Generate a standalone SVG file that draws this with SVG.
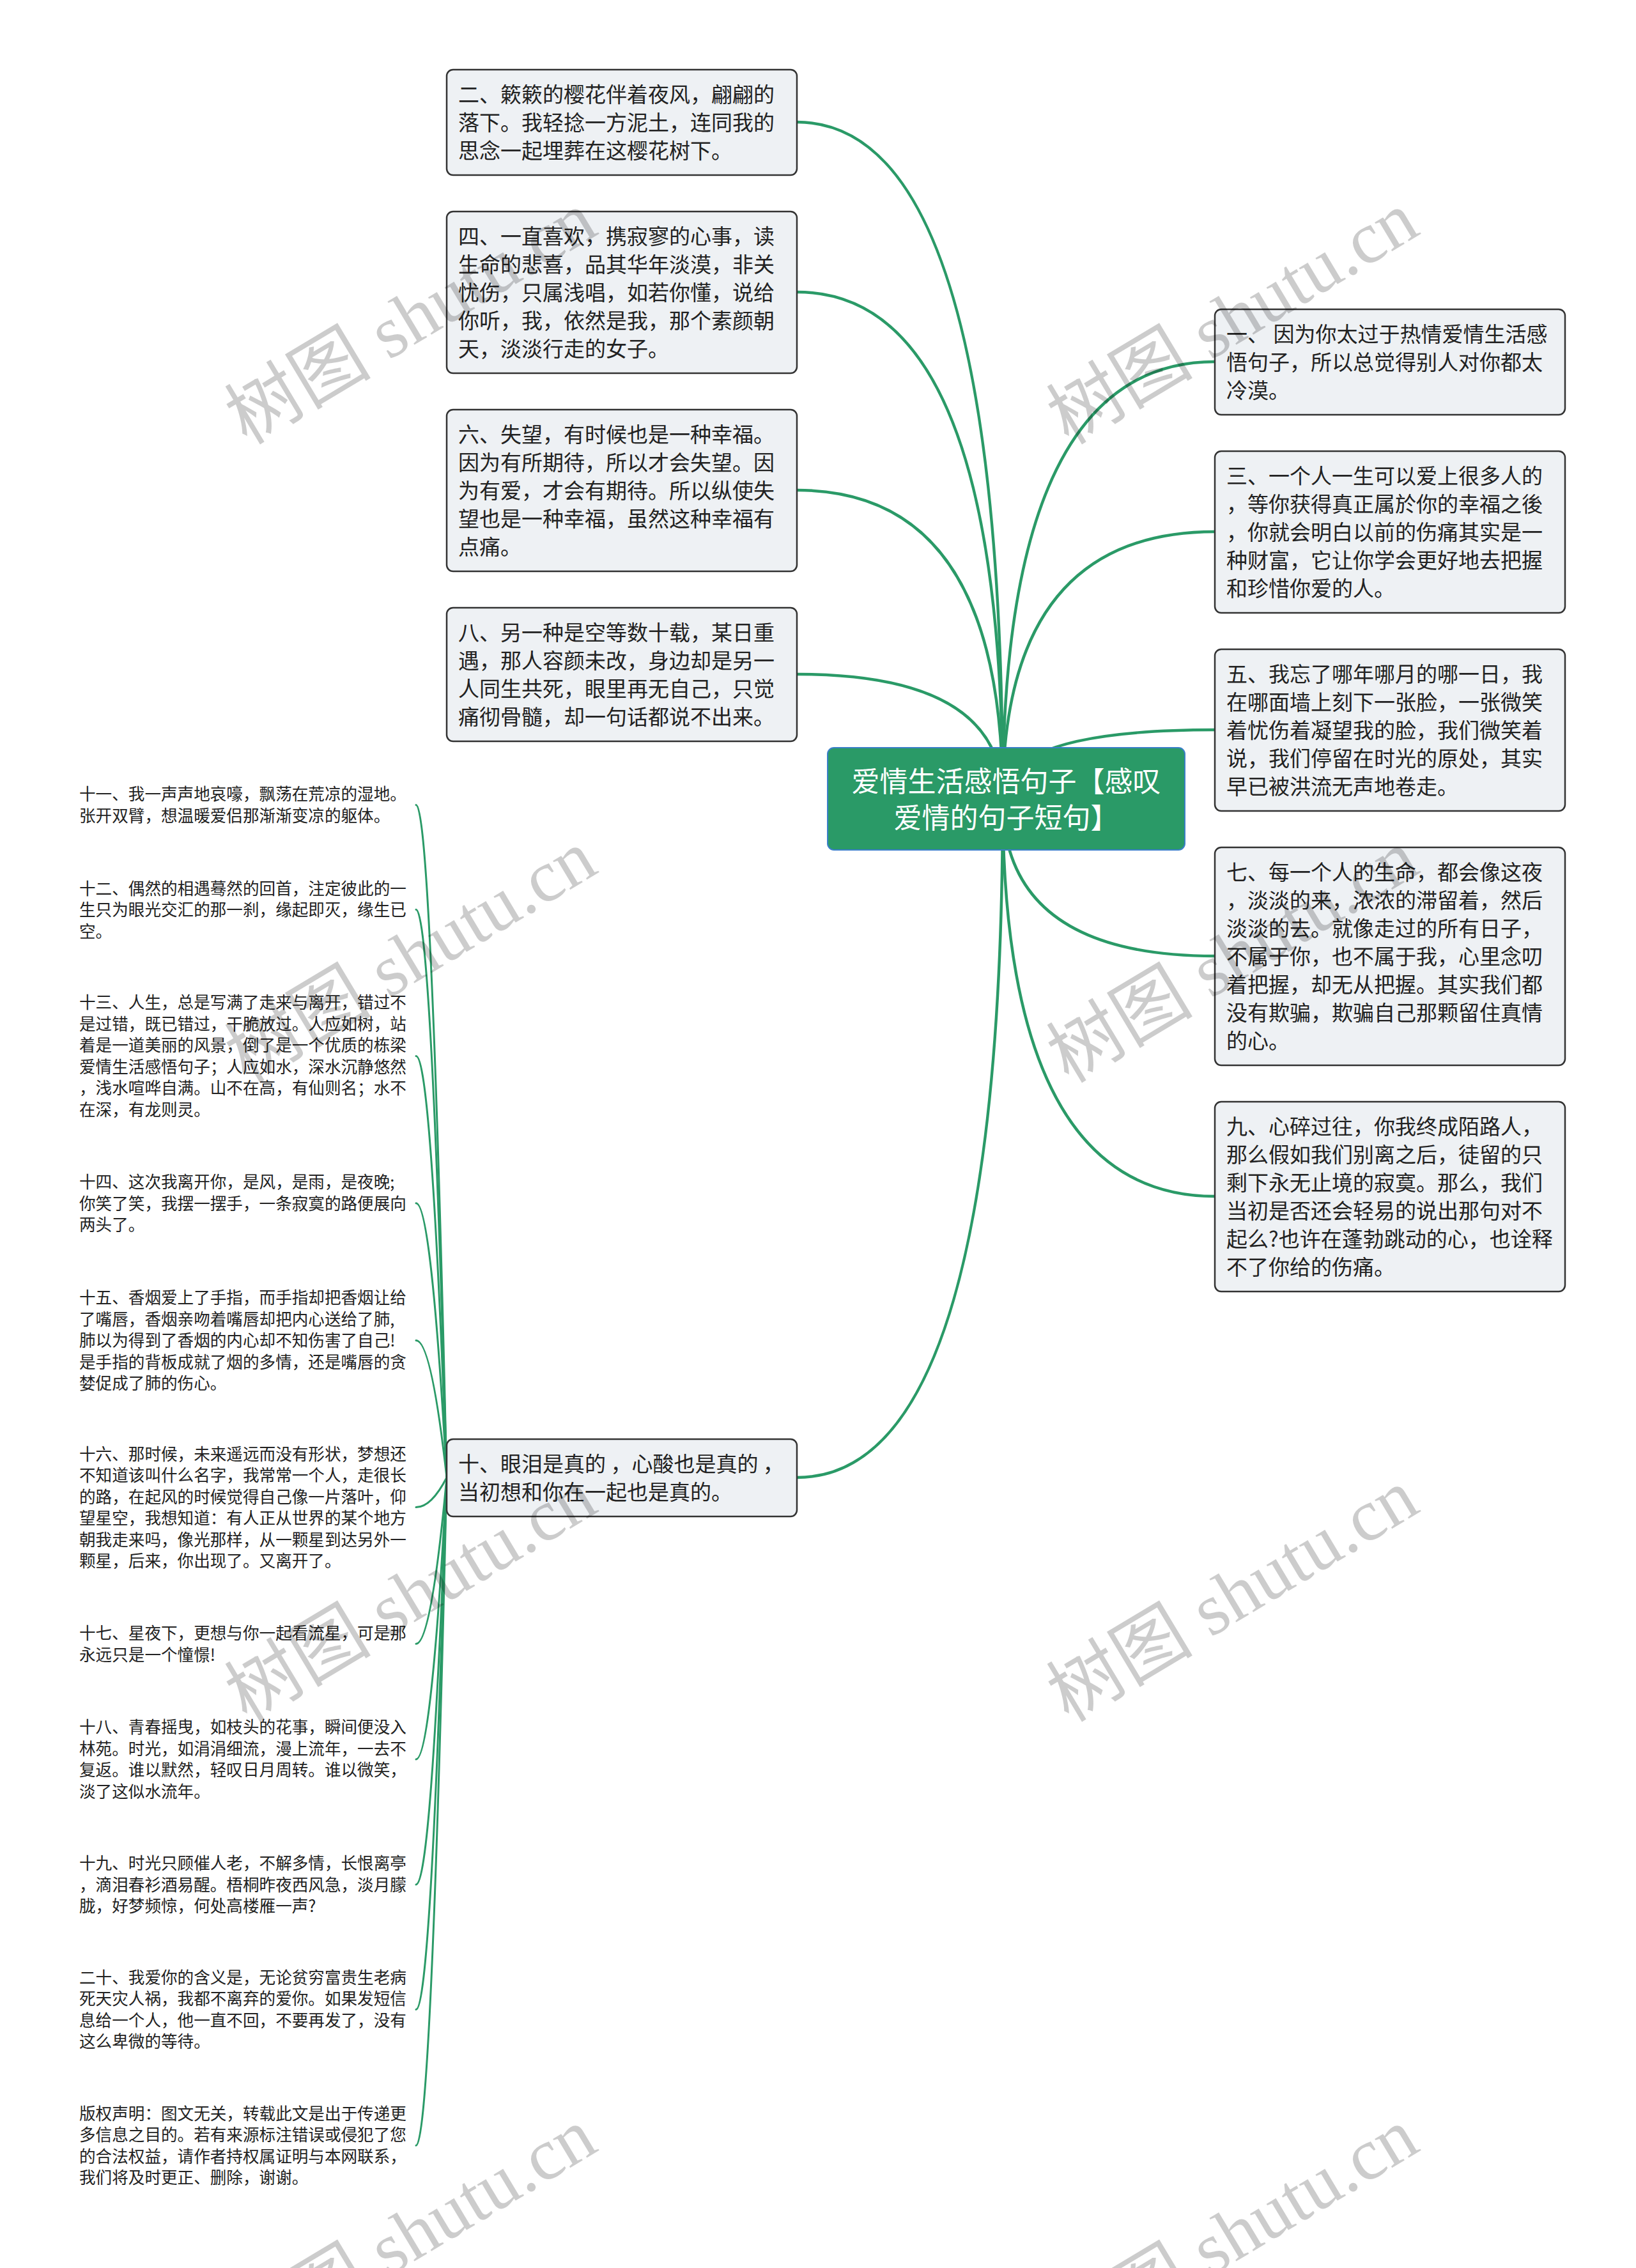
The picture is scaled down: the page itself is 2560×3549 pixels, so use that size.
<svg xmlns="http://www.w3.org/2000/svg" width="2560" height="3549" viewBox="0 0 2560 3549">
<style>
.bg{fill:#ffffff}
.node rect{fill:#eef1f4;stroke:#333333;stroke-width:2.5}
.t{font-family:"Noto Sans CJK SC","Liberation Sans",sans-serif;font-size:33px;fill:#222222}
.s{font-family:"Noto Sans CJK SC","Liberation Sans",sans-serif;font-size:25.6px;fill:#222222}
.root rect{fill:#2a9a67;stroke:#3a7fc8;stroke-width:2}
.root text{font-family:"Noto Sans CJK SC","Liberation Sans",sans-serif;font-size:44px;fill:#ffffff;text-anchor:middle}
.edge{fill:none;stroke:#2a9a67;stroke-width:4.5;stroke-linecap:round}
.sub{fill:none;stroke:#2a9a67;stroke-width:3;stroke-linecap:round}
.wm{font-family:"Liberation Serif","Noto Sans CJK SC",serif;font-size:115px;fill:#000000;fill-opacity:0.2;text-anchor:middle;dominant-baseline:central}
</style>
<rect class="bg" x="0" y="0" width="2560" height="3549"/>
<g id="connectors">
<path class="edge" d="M1569 1250 Q1569 191 1247 191"/>
<path class="edge" d="M1569 1250 Q1569 457 1247 457"/>
<path class="edge" d="M1569 1250 Q1569 767 1247 767"/>
<path class="edge" d="M1569 1250 Q1569 1055 1247 1055"/>
<path class="edge" d="M1569 1250 Q1569 2312 1247 2312"/>
<path class="edge" d="M1569 1250 Q1569 566 1901 566"/>
<path class="edge" d="M1569 1250 Q1569 832 1901 832"/>
<path class="edge" d="M1569 1250 Q1569 1142 1901 1142"/>
<path class="edge" d="M1569 1250 Q1569 1496 1901 1496"/>
<path class="edge" d="M1569 1250 Q1569 1872 1901 1872"/>
<path class="sub" d="M699 2312 Q675 1259.5 651 1259.5"/>
<path class="sub" d="M699 2312 Q675 1423.3 651 1423.3"/>
<path class="sub" d="M699 2312 Q675 1652.4 651 1652.4"/>
<path class="sub" d="M699 2312 Q675 1882.8 651 1882.8"/>
<path class="sub" d="M699 2312 Q675 2097.4 651 2097.4"/>
<path class="sub" d="M699 2312 Q675 2358.6 651 2358.6"/>
<path class="sub" d="M699 2312 Q675 2572.3 651 2572.3"/>
<path class="sub" d="M699 2312 Q675 2752.9 651 2752.9"/>
<path class="sub" d="M699 2312 Q675 2948.9 651 2948.9"/>
<path class="sub" d="M699 2312 Q675 3144.5 651 3144.5"/>
<path class="sub" d="M699 2312 Q675 3357.3 651 3357.3"/>
</g>
<g id="root" class="root">
<rect x="1295" y="1170" width="559" height="160" rx="10"/>
<text x="1574.5" y="1239"><tspan x="1574.5" y="1239">爱情生活感悟句子【感叹</tspan><tspan x="1574.5" y="1296">爱情的句子短句】</tspan></text>
</g>
<g id="n2" class="node">
<rect x="699" y="109" width="548" height="165" rx="10"/>
<text class="t"><tspan x="717" y="160">二、簌簌的樱花伴着夜风，翩翩的</tspan><tspan x="717" y="204">落下。我轻捻一方泥土，连同我的</tspan><tspan x="717" y="248">思念一起埋葬在这樱花树下。</tspan></text>
</g>
<g id="n4" class="node">
<rect x="699" y="331" width="548" height="253" rx="10"/>
<text class="t"><tspan x="717" y="382">四、一直喜欢，携寂寥的心事，读</tspan><tspan x="717" y="426">生命的悲喜，品其华年淡漠，非关</tspan><tspan x="717" y="470">忧伤，只属浅唱，如若你懂，说给</tspan><tspan x="717" y="514">你听，我，依然是我，那个素颜朝</tspan><tspan x="717" y="558">天，淡淡行走的女子。</tspan></text>
</g>
<g id="n6" class="node">
<rect x="699" y="641" width="548" height="253" rx="10"/>
<text class="t"><tspan x="717" y="692">六、失望，有时候也是一种幸福。</tspan><tspan x="717" y="736">因为有所期待，所以才会失望。因</tspan><tspan x="717" y="780">为有爱，才会有期待。所以纵使失</tspan><tspan x="717" y="824">望也是一种幸福，虽然这种幸福有</tspan><tspan x="717" y="868">点痛。</tspan></text>
</g>
<g id="n8" class="node">
<rect x="699" y="951" width="548" height="209" rx="10"/>
<text class="t"><tspan x="717" y="1002">八、另一种是空等数十载，某日重</tspan><tspan x="717" y="1046">遇，那人容颜未改，身边却是另一</tspan><tspan x="717" y="1090">人同生共死，眼里再无自己，只觉</tspan><tspan x="717" y="1134">痛彻骨髓，却一句话都说不出来。</tspan></text>
</g>
<g id="n10" class="node">
<rect x="699" y="2252" width="548" height="121" rx="10"/>
<text class="t"><tspan x="717" y="2303">十、眼泪是真的 ，心酸也是真的 ，</tspan><tspan x="717" y="2347">当初想和你在一起也是真的。</tspan></text>
</g>
<g id="n1" class="node">
<rect x="1901" y="484" width="548" height="165" rx="10"/>
<text class="t"><tspan x="1919" y="535">一、 因为你太过于热情爱情生活感</tspan><tspan x="1919" y="579">悟句子，所以总觉得别人对你都太</tspan><tspan x="1919" y="623">冷漠。</tspan></text>
</g>
<g id="n3" class="node">
<rect x="1901" y="706" width="548" height="253" rx="10"/>
<text class="t"><tspan x="1919" y="757">三、一个人一生可以爱上很多人的</tspan><tspan x="1919" y="801">，等你获得真正属於你的幸福之後</tspan><tspan x="1919" y="845">，你就会明白以前的伤痛其实是一</tspan><tspan x="1919" y="889">种财富，它让你学会更好地去把握</tspan><tspan x="1919" y="933">和珍惜你爱的人。</tspan></text>
</g>
<g id="n5" class="node">
<rect x="1901" y="1016" width="548" height="253" rx="10"/>
<text class="t"><tspan x="1919" y="1067">五、我忘了哪年哪月的哪一日，我</tspan><tspan x="1919" y="1111">在哪面墙上刻下一张脸，一张微笑</tspan><tspan x="1919" y="1155">着忧伤着凝望我的脸，我们微笑着</tspan><tspan x="1919" y="1199">说，我们停留在时光的原处，其实</tspan><tspan x="1919" y="1243">早已被洪流无声地卷走。</tspan></text>
</g>
<g id="n7" class="node">
<rect x="1901" y="1326" width="548" height="341" rx="10"/>
<text class="t"><tspan x="1919" y="1377">七、每一个人的生命，都会像这夜</tspan><tspan x="1919" y="1421">，淡淡的来，浓浓的滞留着，然后</tspan><tspan x="1919" y="1465">淡淡的去。就像走过的所有日子，</tspan><tspan x="1919" y="1509">不属于你，也不属于我，心里念叨</tspan><tspan x="1919" y="1553">着把握，却无从把握。其实我们都</tspan><tspan x="1919" y="1597">没有欺骗，欺骗自己那颗留住真情</tspan><tspan x="1919" y="1641">的心。</tspan></text>
</g>
<g id="n9" class="node">
<rect x="1901" y="1724" width="548" height="297" rx="10"/>
<text class="t"><tspan x="1919" y="1775">九、心碎过往，你我终成陌路人，</tspan><tspan x="1919" y="1819">那么假如我们别离之后，徒留的只</tspan><tspan x="1919" y="1863">剩下永无止境的寂寞。那么，我们</tspan><tspan x="1919" y="1907">当初是否还会轻易的说出那句对不</tspan><tspan x="1919" y="1951">起么?也许在蓬勃跳动的心，也诠释</tspan><tspan x="1919" y="1995">不了你给的伤痛。</tspan></text>
</g>
<g id="n11">
<text class="s"><tspan x="124" y="1252.4">十一、我一声声地哀嚎，飘荡在荒凉的湿地。</tspan><tspan x="124" dy="33.5">张开双臂，想温暖爱侣那渐渐变凉的躯体。</tspan></text>
</g>
<g id="n12">
<text class="s"><tspan x="124" y="1399.5">十二、偶然的相遇蓦然的回首，注定彼此的一</tspan><tspan x="124" dy="33.5">生只为眼光交汇的那一刹，缘起即灭，缘生已</tspan><tspan x="124" dy="33.5">空。</tspan></text>
</g>
<g id="n13">
<text class="s"><tspan x="124" y="1578.3">十三、人生，总是写满了走来与离开，错过不</tspan><tspan x="124" dy="33.5">是过错，既已错过，干脆放过。人应如树，站</tspan><tspan x="124" dy="33.5">着是一道美丽的风景，倒了是一个优质的栋梁</tspan><tspan x="124" dy="33.5">爱情生活感悟句子；人应如水，深水沉静悠然</tspan><tspan x="124" dy="33.5">，浅水喧哗自满。山不在高，有仙则名；水不</tspan><tspan x="124" dy="33.5">在深，有龙则灵。</tspan></text>
</g>
<g id="n14">
<text class="s"><tspan x="124" y="1859">十四、这次我离开你，是风，是雨，是夜晚;</tspan><tspan x="124" dy="33.5">你笑了笑，我摆一摆手，一条寂寞的路便展向</tspan><tspan x="124" dy="33.5">两头了。</tspan></text>
</g>
<g id="n15">
<text class="s"><tspan x="124" y="2040.1">十五、香烟爱上了手指，而手指却把香烟让给</tspan><tspan x="124" dy="33.5">了嘴唇，香烟亲吻着嘴唇却把内心送给了肺,</tspan><tspan x="124" dy="33.5">肺以为得到了香烟的内心却不知伤害了自己!</tspan><tspan x="124" dy="33.5">是手指的背板成就了烟的多情，还是嘴唇的贪</tspan><tspan x="124" dy="33.5">婪促成了肺的伤心。</tspan></text>
</g>
<g id="n16">
<text class="s"><tspan x="124" y="2284.5">十六、那时候，未来遥远而没有形状，梦想还</tspan><tspan x="124" dy="33.5">不知道该叫什么名字，我常常一个人，走很长</tspan><tspan x="124" dy="33.5">的路，在起风的时候觉得自己像一片落叶，仰</tspan><tspan x="124" dy="33.5">望星空，我想知道：有人正从世界的某个地方</tspan><tspan x="124" dy="33.5">朝我走来吗，像光那样，从一颗星到达另外一</tspan><tspan x="124" dy="33.5">颗星，后来，你出现了。又离开了。</tspan></text>
</g>
<g id="n17">
<text class="s"><tspan x="124" y="2565.2">十七、星夜下，更想与你一起看流星，可是那</tspan><tspan x="124" dy="33.5">永远只是一个憧憬!</tspan></text>
</g>
<g id="n18">
<text class="s"><tspan x="124" y="2712.3">十八、青春摇曳，如枝头的花事，瞬间便没入</tspan><tspan x="124" dy="33.5">林苑。时光，如涓涓细流，漫上流年，一去不</tspan><tspan x="124" dy="33.5">复返。谁以默然，轻叹日月周转。谁以微笑，</tspan><tspan x="124" dy="33.5">淡了这似水流年。</tspan></text>
</g>
<g id="n19">
<text class="s"><tspan x="124" y="2925.1">十九、时光只顾催人老，不解多情，长恨离亭</tspan><tspan x="124" dy="33.5">，滴泪春衫酒易醒。梧桐昨夜西风急，淡月朦</tspan><tspan x="124" dy="33.5">胧，好梦频惊，何处高楼雁一声?</tspan></text>
</g>
<g id="n20">
<text class="s"><tspan x="124" y="3103.9">二十、我爱你的含义是，无论贫穷富贵生老病</tspan><tspan x="124" dy="33.5">死天灾人祸，我都不离弃的爱你。如果发短信</tspan><tspan x="124" dy="33.5">息给一个人，他一直不回，不要再发了，没有</tspan><tspan x="124" dy="33.5">这么卑微的等待。</tspan></text>
</g>
<g id="n21">
<text class="s"><tspan x="124" y="3316.7">版权声明：图文无关，转载此文是出于传递更</tspan><tspan x="124" dy="33.5">多信息之目的。若有来源标注错误或侵犯了您</tspan><tspan x="124" dy="33.5">的合法权益，请作者持权属证明与本网联系，</tspan><tspan x="124" dy="33.5">我们将及时更正、删除，谢谢。</tspan></text>
</g>
<g id="watermarks">
<text class="wm" transform="translate(643 498) rotate(-31)">树图 shutu.cn</text>
<text class="wm" transform="translate(1929 498) rotate(-31)">树图 shutu.cn</text>
<text class="wm" transform="translate(643 1497) rotate(-31)">树图 shutu.cn</text>
<text class="wm" transform="translate(1929 1497) rotate(-31)">树图 shutu.cn</text>
<text class="wm" transform="translate(643 2497) rotate(-31)">树图 shutu.cn</text>
<text class="wm" transform="translate(1929 2497) rotate(-31)">树图 shutu.cn</text>
<text class="wm" transform="translate(643 3497) rotate(-31)">树图 shutu.cn</text>
<text class="wm" transform="translate(1929 3497) rotate(-31)">树图 shutu.cn</text>
</g>
</svg>
